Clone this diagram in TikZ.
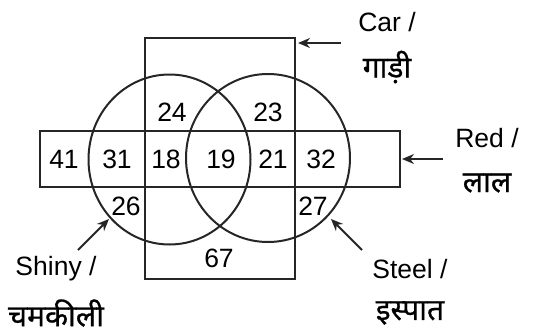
\documentclass[tikz,border=0pt]{standalone}
\usepackage{fontspec}
\setmainfont{Liberation Sans}
\newfontfamily\hindi[Script=Devanagari,FakeBold=0.7]{Noto Sans}
\usetikzlibrary{arrows.meta,shapes.geometric}
\begin{document}
\begin{tikzpicture}[x=1pt,y=-1pt,
  shapeline/.style={line width=2pt, draw=black!85},
  num/.style={font=\fontsize{26.5}{30}\selectfont, inner sep=0pt},
  lab/.style={font=\fontsize{26.5}{30}\selectfont, inner sep=0pt},
  hlab/.style={font=\hindi\fontsize{30}{34}\selectfont, inner sep=0pt},
  pointer/.style={line width=2pt, draw=black!85, -{Stealth[length=12pt,width=10pt]}}]
\useasboundingbox (0,0) rectangle (538,335);
% regions
\node[shapeline, rectangle, minimum width=150pt, minimum height=241pt, inner sep=0pt] (car) at (220,158.5) {};
\node[shapeline, rectangle, minimum width=360pt, minimum height=56pt, inner sep=0pt] (red) at (220,159) {};
\node[shapeline, ellipse, minimum width=162pt, minimum height=170pt, inner sep=0pt] (shiny) at (169.5,159.5) {};
\node[shapeline, ellipse, minimum width=164pt, minimum height=168pt, inner sep=0pt] (steel) at (268,158) {};
% numbers
\node[num] (n24) at (172,112) {24};
\node[num] (n23) at (268,112) {23};
\node[num] (n41) at (64,159) {41};
\node[num] (n31) at (117,159) {31};
\node[num] (n18) at (166,159) {18};
\node[num] (n19) at (221,159) {19};
\node[num] (n21) at (273,159) {21};
\node[num] (n32) at (321,159) {32};
\node[num] (n26) at (126,206) {26};
\node[num] (n27) at (313,206) {27};
\node[num] (n67) at (219,258) {67};
% labels
\node[lab] (carl) at (387,22) {Car /};
\node[hlab] (carh) at (387,67) {गाड़ी};
\node[lab] (redl) at (487,138) {Red /};
\node[hlab] (redh) at (487,183) {लाल};
\node[lab] (shinyl) at (56,269) {Shiny /};
\node[hlab] (shinyh) at (56,313) {चमकीली};
\node[lab] (steell) at (410,269) {Steel /};
\node[hlab] (steelh) at (410,313) {इस्पात};
% arrows
\coordinate (carA) at (341,43);
\coordinate (carB) at (298,43);
\coordinate (redA) at (443,159);
\coordinate (redB) at (402,159);
\coordinate (shA) at (78,250);
\coordinate (shB) at (109,219);
\coordinate (stA) at (362,250);
\coordinate (stB) at (331,219);
\draw[pointer] (carA) -- (carB);
\draw[pointer] (redA) -- (redB);
\draw[pointer] (shA) -- (shB);
\draw[pointer] (stA) -- (stB);
\end{tikzpicture}
\end{document}
